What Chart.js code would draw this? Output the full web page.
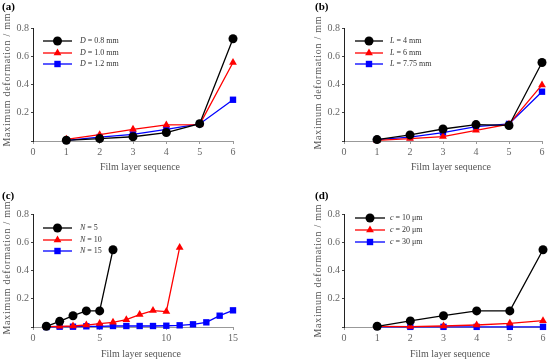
<!DOCTYPE html>
<html>
<head>
<meta charset="utf-8">
<script src="https://cdn.jsdelivr.net/npm/chart.js"></script>
<style>
  body { margin: 0; background: #fff; }
  #wrap { position: relative; width: 550px; height: 362px; }
  canvas { position: absolute; }
</style>
</head>
<body>
<div id="wrap">
  <canvas id="ca" width="275" height="181" style="left:0;top:0"></canvas>
  <canvas id="cb" width="275" height="181" style="left:275px;top:0"></canvas>
  <canvas id="cc" width="275" height="181" style="left:0;top:181px"></canvas>
  <canvas id="cd" width="275" height="181" style="left:275px;top:181px"></canvas>
</div>
<script>
// film layer numbers
const layers6 = [1, 2, 3, 4, 5, 6];
const layers11 = [1, 2, 3, 4, 5, 6, 7, 8, 9, 10, 11];
const layers15 = [1, 2, 3, 4, 5, 6, 7, 8, 9, 10, 11, 12, 13, 14, 15];

// (a) hole diameter
const labelsA = ["D = 0.8 mm", "D = 1.0 mm", "D = 1.2 mm"];
const D08 = [0.005, 0.017, 0.03, 0.06, 0.123, 0.724];
const D10 = [0.012, 0.045, 0.083, 0.114, 0.116, 0.556];
const D12 = [0.005, 0.028, 0.047, 0.083, 0.121, 0.292];

// (b) length
const labelsB = ["L = 4 mm", "L = 6 mm", "L = 7.75 mm"];
const L4 = [0.01, 0.043, 0.085, 0.116, 0.11, 0.556];
const L6 = [0.005, 0.017, 0.031, 0.076, 0.119, 0.397];
const L775 = [0.01, 0.028, 0.06, 0.102, 0.121, 0.349];

// (c) number of layers
const labelsC = ["N = 5", "N = 10", "N = 15"];
const N5 = [0.005, 0.04, 0.08, 0.114, 0.114, 0.547];
const N10 = [0.002, 0.005, 0.007, 0.014, 0.024, 0.033, 0.052, 0.088, 0.116, 0.109, 0.563];
const N15 = [0, 0.002, 0.002, 0.005, 0.005, 0.007, 0.007, 0.007, 0.007, 0.009, 0.012, 0.019, 0.033, 0.08, 0.118];

// (d) thickness
const labelsD = ["c = 10 μm", "c = 20 μm", "c = 30 μm"];
const C10 = [0.005, 0.043, 0.08, 0.114, 0.114, 0.547];
const C20 = [0.005, 0.003, 0.007, 0.014, 0.026, 0.045];
const C30 = [0.001, 0.001, 0.001, 0.001, 0.001, 0.001];

const yTicks = [0.2, 0.4, 0.6, 0.8];
const yTitle = "Maximum deformation / mm";
const xTitle = "Film layer sequence";

const FONT = '"Liberation Serif", "DejaVu Serif", serif';
const colors = ["#000000", "#ff0000", "#0000ff"];
const markers = ["circle", "triangle", "rect"];

function spacedText(ctx, text, cx, cy, width) {
  const chars = Array.from(text);
  const widths = chars.map((c) => ctx.measureText(c).width);
  const total = widths.reduce((a, b) => a + b, 0);
  const gap = (width - total) / (chars.length - 1);
  let x = cx - width / 2;
  ctx.textAlign = "left";
  chars.forEach((c, i) => {
    ctx.fillText(c, x, cy);
    x += widths[i] + gap;
  });
}

function marker(ctx, type, x, y, color) {
  ctx.fillStyle = color;
  ctx.beginPath();
  if (type === "circle") {
    ctx.arc(x, y, 4.5, 0, Math.PI * 2);
  } else if (type === "triangle") {
    ctx.moveTo(x, y - 4.5);
    ctx.lineTo(x + 3.9, y + 2.25);
    ctx.lineTo(x - 3.9, y + 2.25);
    ctx.closePath();
  } else {
    ctx.rect(x - 3.2, y - 3.2, 6.4, 6.4);
  }
  ctx.fill();
}

function deco(cfg) {
  return {
    id: "deco",
    afterDraw(chart) {
      const ctx = chart.ctx;
      const ys = chart.scales.y;
      ctx.save();
      ctx.textBaseline = "middle";

      // y tick labels
      ctx.fillStyle = "#666";
      ctx.font = "10px " + FONT;
      ctx.textAlign = "right";
      yTicks.forEach((v) => {
        ctx.fillText(v.toFixed(1), ys.right - 4, ys.getPixelForValue(v));
      });

      ctx.fillStyle = "#000";
      ctx.font = "bold 11px " + FONT;
      ctx.textAlign = "left";
      ctx.fillText(cfg.tag, cfg.tagX, cfg.tagY);

      ctx.fillStyle = "#555";
      ctx.font = "10px " + FONT;
      spacedText(ctx, xTitle, cfg.xtX, cfg.xtY, 80);
      ctx.save();
      ctx.translate(cfg.ytX, cfg.ytY);
      ctx.rotate(-Math.PI / 2);
      spacedText(ctx, yTitle, 0, 0, 133);
      ctx.restore();

      cfg.labels.forEach((lab, i) => {
        const y = cfg.rows[i];
        ctx.strokeStyle = colors[i];
        ctx.lineWidth = 1.3;
        ctx.beginPath();
        ctx.moveTo(cfg.lx0, y);
        ctx.lineTo(cfg.lx1, y);
        ctx.stroke();
        marker(ctx, markers[i], (cfg.lx0 + cfg.lx1) / 2, y, colors[i]);
        const sym = lab.split(" ")[0];
        const rest = lab.slice(sym.length);
        ctx.fillStyle = "#333";
        ctx.textAlign = "left";
        ctx.font = "italic 8px " + FONT;
        ctx.fillText(sym, cfg.tx, y);
        const w = ctx.measureText(sym).width;
        ctx.font = "8px " + FONT;
        ctx.fillText(rest, cfg.tx + w, y);
      });
      ctx.restore();
    },
  };
}

function makePanel(id, layerSets, series, xMax, xStep, area, cfg) {
  const datasets = series.map((vals, i) => ({
    data: layerSets[i].map((x, j) => ({ x: x, y: vals[j] })),
    borderColor: colors[i],
    backgroundColor: colors[i],
    borderWidth: 1.3,
    pointStyle: markers[i],
    pointRadius: 4.5,
    pointBorderWidth: 0,
    pointBackgroundColor: colors[i],
    tension: 0,
    clip: false,
  }));
  return new Chart(document.getElementById(id), {
    type: "line",
    data: { datasets: datasets },
    options: {
      responsive: false,
      animation: false,
      layout: { padding: { top: area.top, right: 275 - area.right, left: 0, bottom: 0 } },
      plugins: { legend: { display: false }, tooltip: { enabled: false } },
      scales: {
        x: {
          type: "linear",
          min: 0,
          max: xMax,
          afterFit: (s) => { s.height = 181 - area.bottom; },
          border: { color: "#999", width: 1 },
          grid: { display: true, drawOnChartArea: false, tickLength: 3, color: "#999" },
          ticks: {
            stepSize: xStep,
            padding: 2,
            color: "#666",
            font: { family: FONT, size: 10 },
            maxRotation: 0,
          },
        },
        y: {
          min: 0,
          max: yTicks[yTicks.length - 1],
          afterFit: (s) => { s.width = area.left; },
          border: { color: "#222", width: 1 },
          grid: { display: true, drawOnChartArea: false, tickLength: 2, color: "#444" },
          ticks: {
            stepSize: yTicks[1] - yTicks[0],
            color: "rgba(0,0,0,0)",
            font: { family: FONT, size: 10 },
            callback: () => "",
          },
        },
      },
    },
    plugins: [deco(cfg)],
  });
}

makePanel("ca", [layers6, layers6, layers6], [D08, D10, D12], 6, 1,
  { left: 33, right: 233, top: 28, bottom: 141 },
  { tag: "(a)", tagX: 2, tagY: 7, xtX: 140, xtY: 167, ytX: 7, ytY: 80,
    labels: labelsA, rows: [41, 53, 64], lx0: 43, lx1: 72, tx: 80 });

makePanel("cb", [layers6, layers6, layers6], [L4, L6, L775], 6, 1,
  { left: 69, right: 267, top: 28, bottom: 141 },
  { tag: "(b)", tagX: 40, tagY: 7, xtX: 176, xtY: 167, ytX: 43, ytY: 83,
    labels: labelsB, rows: [41, 53, 64], lx0: 80, lx1: 108, tx: 115 });

makePanel("cc", [layers6, layers11, layers15], [N5, N10, N15], 15, 5,
  { left: 33, right: 233, top: 33, bottom: 146 },
  { tag: "(c)", tagX: 2, tagY: 15, xtX: 141, xtY: 173, ytX: 7, ytY: 87,
    labels: labelsC, rows: [47, 59, 70], lx0: 43, lx1: 72, tx: 80 });

makePanel("cd", [layers6, layers6, layers6], [C10, C20, C30], 6, 1,
  { left: 69, right: 268, top: 33, bottom: 146 },
  { tag: "(d)", tagX: 40, tagY: 15, xtX: 175, xtY: 173, ytX: 43, ytY: 90,
    labels: labelsD, rows: [37, 49, 61], lx0: 80, lx1: 110, tx: 115 });
</script>
</body>
</html>
